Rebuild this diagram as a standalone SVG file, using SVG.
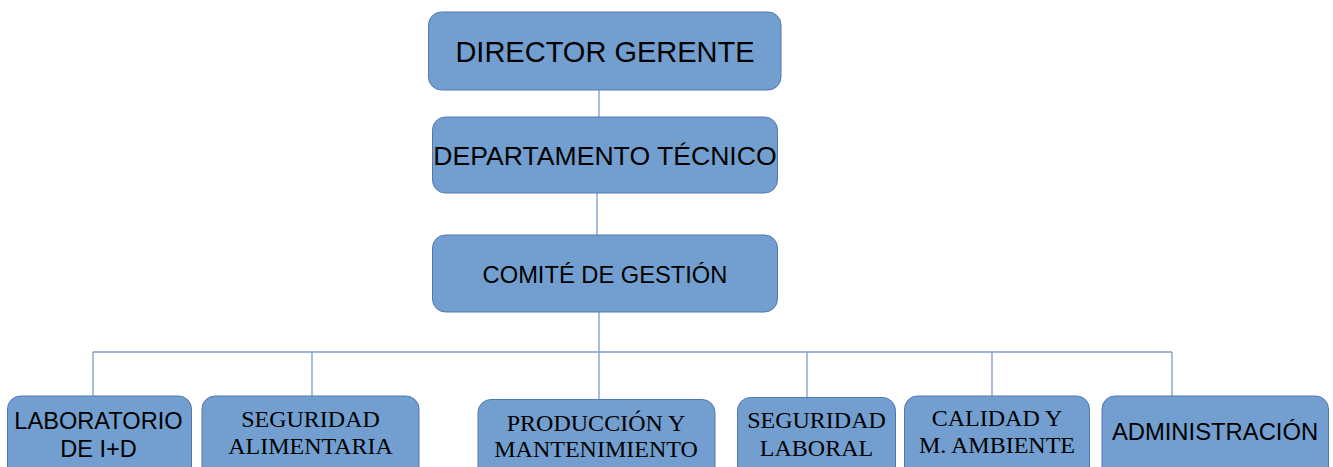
<svg xmlns="http://www.w3.org/2000/svg" width="1333" height="467" viewBox="0 0 1333 467">
<style>
.box{fill:#729fcf;stroke:#5279ad;stroke-width:1}
.sans{font-family:"Liberation Sans",Arial,sans-serif;fill:#000;text-anchor:middle}
.serif{font-family:"Liberation Serif","Times New Roman",serif;fill:#000;text-anchor:middle;font-size:24px}
.conn{stroke:#7c9cc8;stroke-width:1.3;fill:none}
</style>
<rect width="1333" height="467" fill="#fff"/>
<g id="connectors">
<line class="conn" x1="599" y1="90" x2="599" y2="117"/>
<line class="conn" x1="597" y1="193" x2="597" y2="235"/>
<line class="conn" x1="599" y1="312" x2="599" y2="400"/>
<line class="conn" x1="93" y1="352" x2="1172" y2="352"/>
<line class="conn" x1="93" y1="352" x2="93" y2="396"/>
<line class="conn" x1="312" y1="352" x2="312" y2="396"/>
<line class="conn" x1="807" y1="352" x2="807" y2="398"/>
<line class="conn" x1="992" y1="352" x2="992" y2="396"/>
<line class="conn" x1="1172" y1="352" x2="1172" y2="396"/>
</g>
<g id="director">
<rect class="box" x="428.5" y="12" width="352.5" height="78" rx="13"/>
<text class="sans" x="605" y="62" font-size="29">DIRECTOR GERENTE</text>
</g>
<g id="departamento">
<rect class="box" x="432.5" y="117" width="345" height="76" rx="13"/>
<text class="sans" x="605" y="165" font-size="26.6">DEPARTAMENTO TÉCNICO</text>
</g>
<g id="comite">
<rect class="box" x="432.5" y="235" width="345" height="77" rx="13"/>
<text class="sans" x="605" y="283" font-size="23.7">COMITÉ DE GESTIÓN</text>
</g>
<g id="laboratorio">
<rect class="box" x="7.5" y="396" width="184" height="90" rx="13"/>
<text class="sans" x="98.5" y="428.5" font-size="23.6">LABORATORIO</text>
<text class="sans" x="98.5" y="456.5" font-size="23.6">DE I+D</text>
</g>
<g id="seguridad-alimentaria">
<rect class="box" x="202" y="396" width="217" height="90" rx="13"/>
<text class="serif" x="310.5" y="427">SEGURIDAD</text>
<text class="serif" x="310.5" y="454">ALIMENTARIA</text>
</g>
<g id="produccion">
<rect class="box" x="478" y="399.5" width="237" height="90" rx="13"/>
<text class="serif" x="596" y="431">PRODUCCIÓN Y</text>
<text class="serif" x="596" y="457">MANTENIMIENTO</text>
</g>
<g id="seguridad-laboral">
<rect class="box" x="737.5" y="397.5" width="158" height="90" rx="13"/>
<text class="serif" x="816.5" y="428">SEGURIDAD</text>
<text class="serif" x="816.5" y="456">LABORAL</text>
</g>
<g id="calidad">
<rect class="box" x="904.5" y="396" width="185" height="90" rx="13"/>
<text class="serif" x="997" y="426">CALIDAD Y</text>
<text class="serif" x="997" y="453">M. AMBIENTE</text>
</g>
<g id="administracion">
<rect class="box" x="1102" y="396" width="226.5" height="90" rx="13"/>
<text class="sans" x="1215" y="440" font-size="23.8">ADMINISTRACIÓN</text>
</g>
</svg>
